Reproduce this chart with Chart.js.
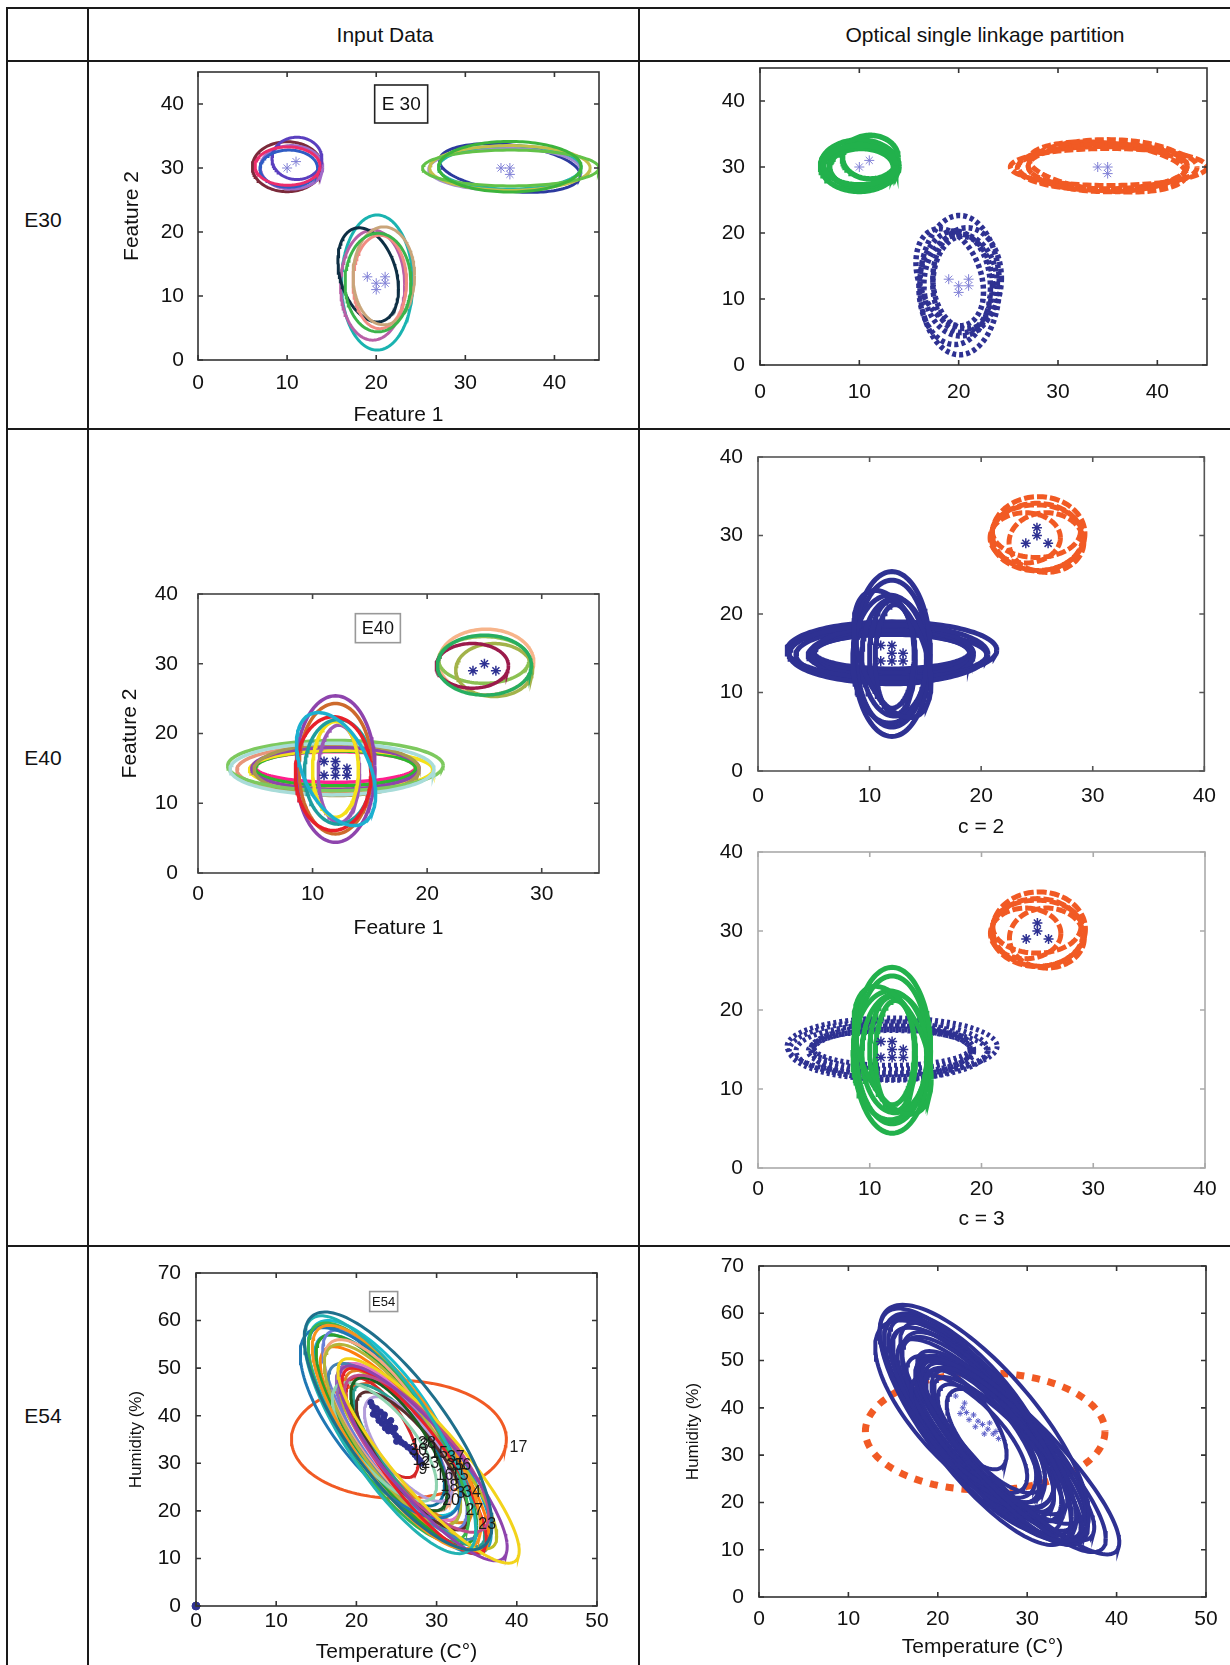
<!DOCTYPE html>
<html>
<head>
<meta charset="utf-8">
<title>Optical single linkage partition</title>
<script src="https://cdn.jsdelivr.net/npm/chart.js@4.4.1/dist/chart.umd.min.js"></script>
<style>
  html, body { margin: 0; padding: 0; background: #fff; }
  #page { position: relative; width: 1230px; height: 1665px; overflow: hidden;
          font-family: "Liberation Sans", Arial, sans-serif; color: #111; }
  .rule { position: absolute; background: #1a1a1a; }
  .txt { position: absolute; font-size: 21px; transform: translate(-50%, -50%); white-space: nowrap; }
  canvas { position: absolute; }
</style>
</head>
<body>
<div id="page">
  <!-- table rules -->
  <div class="rule" style="left:6px; top:7px; width:1224px; height:2px"></div>
  <div class="rule" style="left:6px; top:60px; width:1224px; height:2px"></div>
  <div class="rule" style="left:6px; top:428px; width:1224px; height:2px"></div>
  <div class="rule" style="left:6px; top:1245px; width:1224px; height:2px"></div>
  <div class="rule" style="left:6px; top:7px; width:2px; height:1658px"></div>
  <div class="rule" style="left:87px; top:7px; width:2px; height:1658px"></div>
  <div class="rule" style="left:638px; top:7px; width:2px; height:1658px"></div>

  <div class="txt" style="left:385px; top:35px">Input Data</div>
  <div class="txt" style="left:985px; top:35px">Optical single linkage partition</div>
  <div class="txt" style="left:43px; top:220px">E30</div>
  <div class="txt" style="left:43px; top:758px">E40</div>
  <div class="txt" style="left:43px; top:1416px">E54</div>

  <canvas id="e30in"></canvas>
  <canvas id="e30out"></canvas>
  <canvas id="e40in"></canvas>
  <canvas id="e40c2"></canvas>
  <canvas id="e40c3"></canvas>
  <canvas id="e54in"></canvas>
  <canvas id="e54out"></canvas>
</div>

<script>
// ---- data -------------------------------------------------------------
// every ring: [centre x, centre y, half width, half height, k]
// k = height of the right-most point relative to the half height (0 = upright ellipse)

// E30
const e30RoundRings = [
  [10.05, 30.3, 3.65, 3.0, 0],
  [10.2, 29.9, 3.25, 2.9, 0],
  [11.1, 31.5, 2.8, 3.3, 0],
  [10.5, 30.1, 3.5, 3.4, 0],
  [10.0, 30.2, 3.9, 3.9, 0]
];
const e30RoundColors = ['#ec2d6c', '#2f5cc4', '#5a3fbf', '#a06bc9', '#7b2a3a'];

const e30WideRings = [
  [35.0, 30.2, 8.0, 3.95, 0],
  [35.1, 30.0, 9.9, 2.8, 0],
  [35.0, 30.0, 9.0, 3.5, 0],
  [35.0, 30.1, 8.0, 3.4, 0],
  [34.4, 29.8, 8.5, 3.3, 0],
  [35.0, 30.0, 7.9, 3.8, -0.3]
];
const e30WideColors = ['#3cb43c', '#62c248', '#c3be4a', '#26b5a5', '#a08cd0', '#2c3a9e'];

const e30TallRings = [
  [20.2, 12.1, 3.7, 7.7, 0],
  [20.85, 13.15, 3.45, 7.65, 0],
  [20.4, 12.2, 3.0, 7.3, 0],
  [19.1, 13.3, 3.4, 7.35, -0.3],
  [19.6, 11.7, 3.6, 8.6, 0],
  [20.1, 12.1, 4.0, 10.55, 0]
];
const e30TallColors = ['#3cb44b', '#c9a57a', '#f28b82', '#0e2f44', '#b860a6', '#1ab3b0'];

const e30Stars = [[10, 30], [11, 31], [34, 30], [35, 30], [35, 29],
                  [19, 13], [20, 12], [20, 11], [21, 13], [21, 12]];

// E40
const e40WideRings = [
  [11.7, 14.9, 8.9, 3.7, 0],
  [12.0, 15.4, 9.4, 3.6, 0],
  [12.1, 14.8, 7.2, 3.7, 0],
  [12.0, 15.0, 7.3, 3.0, 0],
  [12.5, 14.8, 8.0, 2.8, 0],
  [12.0, 15.0, 7.0, 2.5, 0],
  [11.2, 14.8, 7.8, 3.3, 0],
  [12.0, 15.2, 7.0, 2.2, 0]
];
const e40WideColors = ['#a8dcd9', '#7dc95e', '#a89a50', '#8e44ad', '#f5e11a', '#2eb82e', '#e8957a', '#ff1f8e'];

const e40TallRings = [
  [12.05, 14.9, 3.45, 8.1, -0.45],
  [11.8, 14.25, 3.3, 8.15, 0],
  [12.0, 14.9, 3.45, 10.5, 0],
  [12.0, 14.95, 3.2, 9.35, 0],
  [12.25, 14.5, 2.95, 7.5, 0],
  [12.0, 14.85, 2.0, 6.85, 0],
  [12.3, 14.2, 1.8, 7.0, 0]
];
const e40TallColors = ['#1cb0d0', '#e8202a', '#8e44ad', '#cd6a2c', '#1f9e9e', '#f5e11a', '#9b59b6'];

const e40RoundRings = [
  [25.0, 29.8, 4.1, 4.3, 0],
  [23.95, 29.7, 3.15, 3.2, 0],
  [25.85, 29.1, 3.35, 3.8, 0],
  [24.95, 30.55, 3.95, 3.35, 0],
  [25.15, 30.25, 4.15, 4.7, 0]
];
const e40RoundColors = ['#27ae60', '#9b1b4b', '#a3b34a', '#8cc152', '#f7b48a'];

const e40CentreStars = [[11, 16], [12, 16], [12, 15], [13, 15], [11, 14], [12, 14], [13, 14]];
const e40CornerStarsIn = [[24, 29], [25, 30], [26, 29]];
const e40CornerStarsOut = [[24, 29], [25, 30], [26, 29], [25, 31]];

// E54
const e54Rings = [
  [25.2, 36.8, 11.7, 25.0, -0.78],
  [24.2, 36.0, 10.7, 25.0, -0.80],
  [29.0, 30.5, 11.3, 21.5, -0.88],
  [28.3, 30.0, 10.5, 20.5, -0.86],
  [27.5, 32.0, 9.0, 16.5, -0.78],
  [25.0, 35.5, 10.5, 23.5, -0.80],
  [27.2, 30.5, 9.0, 19.5, -0.85],
  [24.0, 36.5, 10.0, 23.0, -0.78],
  [23.0, 38.5, 10.0, 20.0, -0.72],
  [25.3, 34.0, 6.0, 14.0, -0.75],
  [23.5, 34.5, 6.5, 12.5, -0.72],
  [27.0, 30.5, 7.0, 14.5, -0.80],
  [26.5, 33.0, 5.5, 11.0, -0.70],
  [24.5, 36.0, 8.5, 19.0, -0.78],
  [26.0, 32.5, 9.5, 18.5, -0.82],
  [24.0, 38.0, 8.0, 18.0, -0.75],
  [27.8, 29.5, 8.2, 17.0, -0.86],
  [25.5, 34.5, 7.5, 16.5, -0.78],
  [24.8, 37.0, 9.0, 21.0, -0.80],
  [26.5, 33.5, 8.0, 16.0, -0.80],
  [23.5, 39.5, 9.5, 20.5, -0.74],
  [25.0, 35.0, 10.0, 22.0, -0.82],
  [22.5, 40.0, 8.5, 19.0, -0.76],
  [26.0, 33.0, 10.5, 21.5, -0.84],
  [24.5, 35.5, 7.0, 15.5, -0.74],
  [23.2, 37.5, 4.5, 10.5, -0.70],
  [27.5, 31.0, 10.0, 19.0, -0.86],
  [25.8, 34.0, 11.0, 23.0, -0.82]
];
const e54Colors = ['#1f6f8b', '#22b3b3', '#f2d31b', '#8e44ad', '#c04b8a', '#f7931e', '#e8202a', '#3cb44b',
                   '#1f77b4', '#1b5e20', '#8fd3b0', '#5a2d2d', '#b39ddb', '#b5b53a', '#4682b4', '#f4a582',
                   '#2a9d8f', '#e377c2', '#6b7fd7', '#e08020', '#17becf', '#2ca02c', '#0b6e99', '#ff7f0e',
                   '#9467bd', '#d62728', '#bcbd22', '#1f9fbf'];
const e54Odd = [[25.3, 35.0, 13.4, 12.4, 0]];

const e54Cloud = [[21.8, 42.8], [22.0, 42.0], [22.3, 41.2], [22.1, 40.3], [22.6, 40.0], [23.0, 40.8],
                  [23.4, 39.6], [22.8, 39.0], [23.2, 38.4], [23.8, 38.6], [24.2, 37.8], [23.6, 37.4],
                  [24.0, 36.8], [24.6, 36.6], [24.9, 35.8], [25.3, 35.2], [25.0, 34.6], [25.6, 34.4],
                  [26.0, 34.0], [26.4, 33.4], [26.8, 33.0], [27.0, 32.4], [27.3, 31.8], [27.6, 31.2],
                  [27.9, 30.6], [28.1, 30.0], [22.5, 41.5], [23.5, 40.2], [24.3, 39.0], [24.8, 37.4]];
const e54Origin = [[0, 0]];
const e54StarsOut = [[22.0, 42.5], [22.8, 40.0], [23.2, 39.0], [24.0, 38.5], [24.5, 37.2], [25.0, 36.5],
                     [25.6, 35.5], [26.2, 34.5], [26.8, 33.5], [23.5, 37.5], [24.2, 36.0], [25.2, 34.5],
                     [22.5, 38.8], [25.8, 36.8], [26.5, 35.0], [23.0, 41.0]];

const e54Tags = [['17', 40.2, 33.4], ['27', 34.7, 20.1], ['23', 36.3, 17.1], ['20', 31.8, 22.2],
                 ['34', 34.4, 23.8], ['3', 33.0, 23.6], ['18', 31.6, 25.0], ['16', 31.0, 27.5],
                 ['15', 32.9, 27.5], ['35', 32.3, 29.6], ['36', 33.2, 29.6], ['37', 32.4, 31.3],
                 ['15', 30.3, 32.0], ['23', 29.2, 29.9], ['12', 28.1, 30.6], ['9', 28.3, 28.7],
                 ['13', 27.9, 33.8], ['28', 28.8, 34.1], ['30', 27.7, 32.7]];

// ---- helpers ----------------------------------------------------------
const FONT = '"Liberation Sans", Arial, sans-serif';
const BLUE = '#2e3192';
const ORANGE = '#f15a24';
const GREEN = '#22b14c';

function ring(e, n = 140) {
  const [cx, cy, rx, ry, k] = e;
  const phi = Math.acos(k);
  const pts = [];
  for (let i = 0; i <= n; i++) {
    const t = i / n * 2 * Math.PI;
    pts.push({ x: cx + rx * Math.cos(t), y: cy + ry * Math.cos(t + phi) });
  }
  return pts;
}

function rings(list, colors, width, dash) {
  return list.map((e, i) => ({
    data: ring(e),
    showLine: true,
    pointRadius: 0,
    borderColor: Array.isArray(colors) ? colors[i % colors.length] : colors,
    borderWidth: width,
    borderDash: dash || [],
    borderCapStyle: 'butt',
    tension: 0,
    fill: false
  }));
}

function stars(list, color, r, width) {
  return {
    data: list.map(([x, y]) => ({ x, y })),
    showLine: false,
    pointStyle: 'star',
    pointRadius: r,
    borderColor: color,
    backgroundColor: color,
    borderWidth: width || 1
  };
}

// frame round the plot with inward ticks on all four sides
function framePlugin(color) {
  return {
    id: 'frame',
    afterDraw(chart) {
      const { ctx, chartArea: a, scales: { x, y } } = chart;
      ctx.save();
      ctx.strokeStyle = color;
      ctx.lineWidth = 1.6;
      ctx.strokeRect(a.left, a.top, a.right - a.left, a.bottom - a.top);
      ctx.beginPath();
      x.ticks.forEach(t => {
        const p = x.getPixelForValue(t.value);
        ctx.moveTo(p, a.bottom); ctx.lineTo(p, a.bottom - 5);
        ctx.moveTo(p, a.top); ctx.lineTo(p, a.top + 5);
      });
      y.ticks.forEach(t => {
        const p = y.getPixelForValue(t.value);
        ctx.moveTo(a.left, p); ctx.lineTo(a.left + 5, p);
        ctx.moveTo(a.right, p); ctx.lineTo(a.right - 5, p);
      });
      ctx.stroke();
      ctx.restore();
    }
  };
}

function casePlugin(text, vx, vy, w, h, size, border) {
  return {
    id: 'caseBox',
    afterDatasetsDraw(chart) {
      const { ctx, scales: { x, y } } = chart;
      const cx = x.getPixelForValue(vx), cy = y.getPixelForValue(vy);
      ctx.save();
      ctx.fillStyle = '#fff';
      ctx.fillRect(cx - w / 2, cy - h / 2, w, h);
      ctx.strokeStyle = border;
      ctx.lineWidth = 1.6;
      ctx.strokeRect(cx - w / 2, cy - h / 2, w, h);
      ctx.fillStyle = '#111';
      ctx.font = size + 'px ' + FONT;
      ctx.textAlign = 'center';
      ctx.textBaseline = 'middle';
      ctx.fillText(text, cx, cy + 1);
      ctx.restore();
    }
  };
}

function tagPlugin(tags) {
  return {
    id: 'tags',
    afterDatasetsDraw(chart) {
      const { ctx, scales: { x, y } } = chart;
      ctx.save();
      ctx.fillStyle = '#1a1a1a';
      ctx.font = '16px ' + FONT;
      ctx.textAlign = 'center';
      ctx.textBaseline = 'middle';
      tags.forEach(([t, vx, vy]) => ctx.fillText(t, x.getPixelForValue(vx), y.getPixelForValue(vy)));
      ctx.restore();
    }
  };
}

// g: plot box L,T,R,B in page pixels, pt/pr paddings, yw/xh axis sizes
function panel(id, g, datasets, extra) {
  const cv = document.getElementById(id);
  const w = Math.round(g.R - g.L + g.yw + g.pr);
  const h = Math.round(g.B - g.T + g.pt + g.xh);
  cv.width = w; cv.height = h;
  cv.style.left = (g.L - g.yw) + 'px';
  cv.style.top = (g.T - g.pt) + 'px';
  cv.style.width = w + 'px';
  cv.style.height = h + 'px';
  const tickFont = { family: FONT, size: 21 };
  new Chart(cv, {
    type: 'scatter',
    data: { datasets },
    options: {
      responsive: false,
      animation: false,
      devicePixelRatio: 1,
      events: [],
      layout: { padding: { top: g.pt, right: g.pr, left: 0, bottom: 0 } },
      plugins: { legend: { display: false }, tooltip: { enabled: false } },
      scales: {
        x: {
          type: 'linear', min: 0, max: g.xmax,
          grid: { display: false, drawTicks: false },
          border: { display: false },
          ticks: { stepSize: 10, includeBounds: false, padding: g.xpad, color: '#111', font: tickFont },
          title: extra.xTitle
            ? { display: true, text: extra.xTitle, padding: 0, color: '#111', font: { family: FONT, size: 21 } }
            : { display: false },
          afterFit: s => { s.height = g.xh; }
        },
        y: {
          type: 'linear', min: 0, max: g.ymax,
          grid: { display: false, drawTicks: false },
          border: { display: false },
          ticks: { stepSize: 10, includeBounds: false, padding: g.ypad, color: '#111', font: tickFont },
          title: extra.yTitle
            ? { display: true, text: extra.yTitle, padding: 0, color: '#111', font: { family: FONT, size: extra.ySize || 21 } }
            : { display: false },
          afterFit: s => { s.width = g.yw; }
        }
      }
    },
    plugins: [framePlugin(extra.frame || '#333')].concat(extra.plugins || [])
  });
}

// top padding must cover half a tick label plus the tick padding
// ---- E30 --------------------------------------------------------------
panel('e30in',
  { L: 198, T: 72, R: 599, B: 360, pt: 30, pr: 20, yw: 78, xh: 68, xmax: 45, ymax: 45, xpad: 11, ypad: 14 },
  [stars(e30Stars, '#8080d6', 5)]
    .concat(rings(e30RoundRings, e30RoundColors, 3))
    .concat(rings(e30TallRings, e30TallColors, 3))
    .concat(rings(e30WideRings, e30WideColors, 3)),
  { xTitle: 'Feature 1', yTitle: 'Feature 2', plugins: [casePlugin('E 30', 22.8, 40.0, 53, 38, 19, '#222')] });

panel('e30out',
  { L: 760, T: 68, R: 1207, B: 365, pt: 30, pr: 20, yw: 70, xh: 50, xmax: 45, ymax: 45, xpad: 15, ypad: 15 },
  [stars(e30Stars, '#8080d6', 5)]
    .concat(rings(e30RoundRings, GREEN, 5.5))
    .concat(rings(e30TallRings, BLUE, 5.5, [4, 3]))
    .concat(rings(e30WideRings, ORANGE, 5, [9, 3])),
  {});

// ---- E40 --------------------------------------------------------------
panel('e40in',
  { L: 198, T: 594, R: 598.5, B: 873, pt: 35, pr: 20, yw: 80, xh: 68, xmax: 35, ymax: 40, xpad: 9, ypad: 20 },
  [stars(e40CentreStars, BLUE, 5, 1.5), stars(e40CornerStarsIn, BLUE, 5, 1.5)]
    .concat(rings(e40TallRings, e40TallColors, 3.5))
    .concat(rings(e40WideRings, e40WideColors, 3.5))
    .concat(rings(e40RoundRings, e40RoundColors, 3.5)),
  { xTitle: 'Feature 1', yTitle: 'Feature 2', frame: '#444',
    plugins: [casePlugin('E40', 15.7, 35.1, 45, 29, 18, '#999')] });

panel('e40c2',
  { L: 758, T: 457, R: 1204.5, B: 771, pt: 30, pr: 24, yw: 70, xh: 69, xmax: 40, ymax: 40, xpad: 13, ypad: 15 },
  [stars(e40CentreStars, BLUE, 5, 1.5), stars(e40CornerStarsOut, BLUE, 5, 1.5)]
    .concat(rings(e40TallRings, BLUE, 5))
    .concat(rings(e40WideRings, BLUE, 5))
    .concat(rings(e40RoundRings, ORANGE, 5, [10, 3])),
  { xTitle: 'c = 2', frame: '#555' });

panel('e40c3',
  { L: 758, T: 852, R: 1204.5, B: 1168, pt: 30, pr: 24, yw: 70, xh: 64, xmax: 40, ymax: 40, xpad: 9, ypad: 15 },
  [stars(e40CentreStars, BLUE, 5, 1.5), stars(e40CornerStarsOut, BLUE, 5, 1.5)]
    .concat(rings(e40TallRings, GREEN, 5))
    .concat(rings(e40WideRings, BLUE, 5, [3, 3]))
    .concat(rings(e40RoundRings, ORANGE, 5, [10, 3])),
  { xTitle: 'c = 3', frame: '#aaa' });

// ---- E54 --------------------------------------------------------------
const originDot = stars(e54Origin, BLUE, 4);
originDot.pointStyle = 'circle';
originDot.clip = false;
const cloud = stars(e54Cloud, BLUE, 3);
cloud.pointStyle = 'circle';

panel('e54in',
  { L: 196, T: 1273, R: 597, B: 1606, pt: 30, pr: 20, yw: 70, xh: 59, xmax: 50, ymax: 70, xpad: 3, ypad: 15 },
  [originDot, cloud]
    .concat(rings(e54Rings, e54Colors, 3))
    .concat(rings(e54Odd, ORANGE, 3)),
  { xTitle: 'Temperature (C°)', yTitle: 'Humidity (%)', ySize: 17, frame: '#333',
    plugins: [tagPlugin(e54Tags), casePlugin('E54', 23.4, 64.0, 28, 20, 13, '#999')] });

panel('e54out',
  { L: 759, T: 1266, R: 1206, B: 1597, pt: 30, pr: 22, yw: 76, xh: 63, xmax: 50, ymax: 70, xpad: 10, ypad: 15 },
  [stars(e54StarsOut, '#5b5fc7', 3)]
    .concat(rings(e54Rings, BLUE, 4))
    .concat(rings(e54Odd, ORANGE, 7, [8, 8])),
  { xTitle: 'Temperature (C°)', yTitle: 'Humidity (%)', ySize: 17, frame: '#333' });
</script>
</body>
</html>
